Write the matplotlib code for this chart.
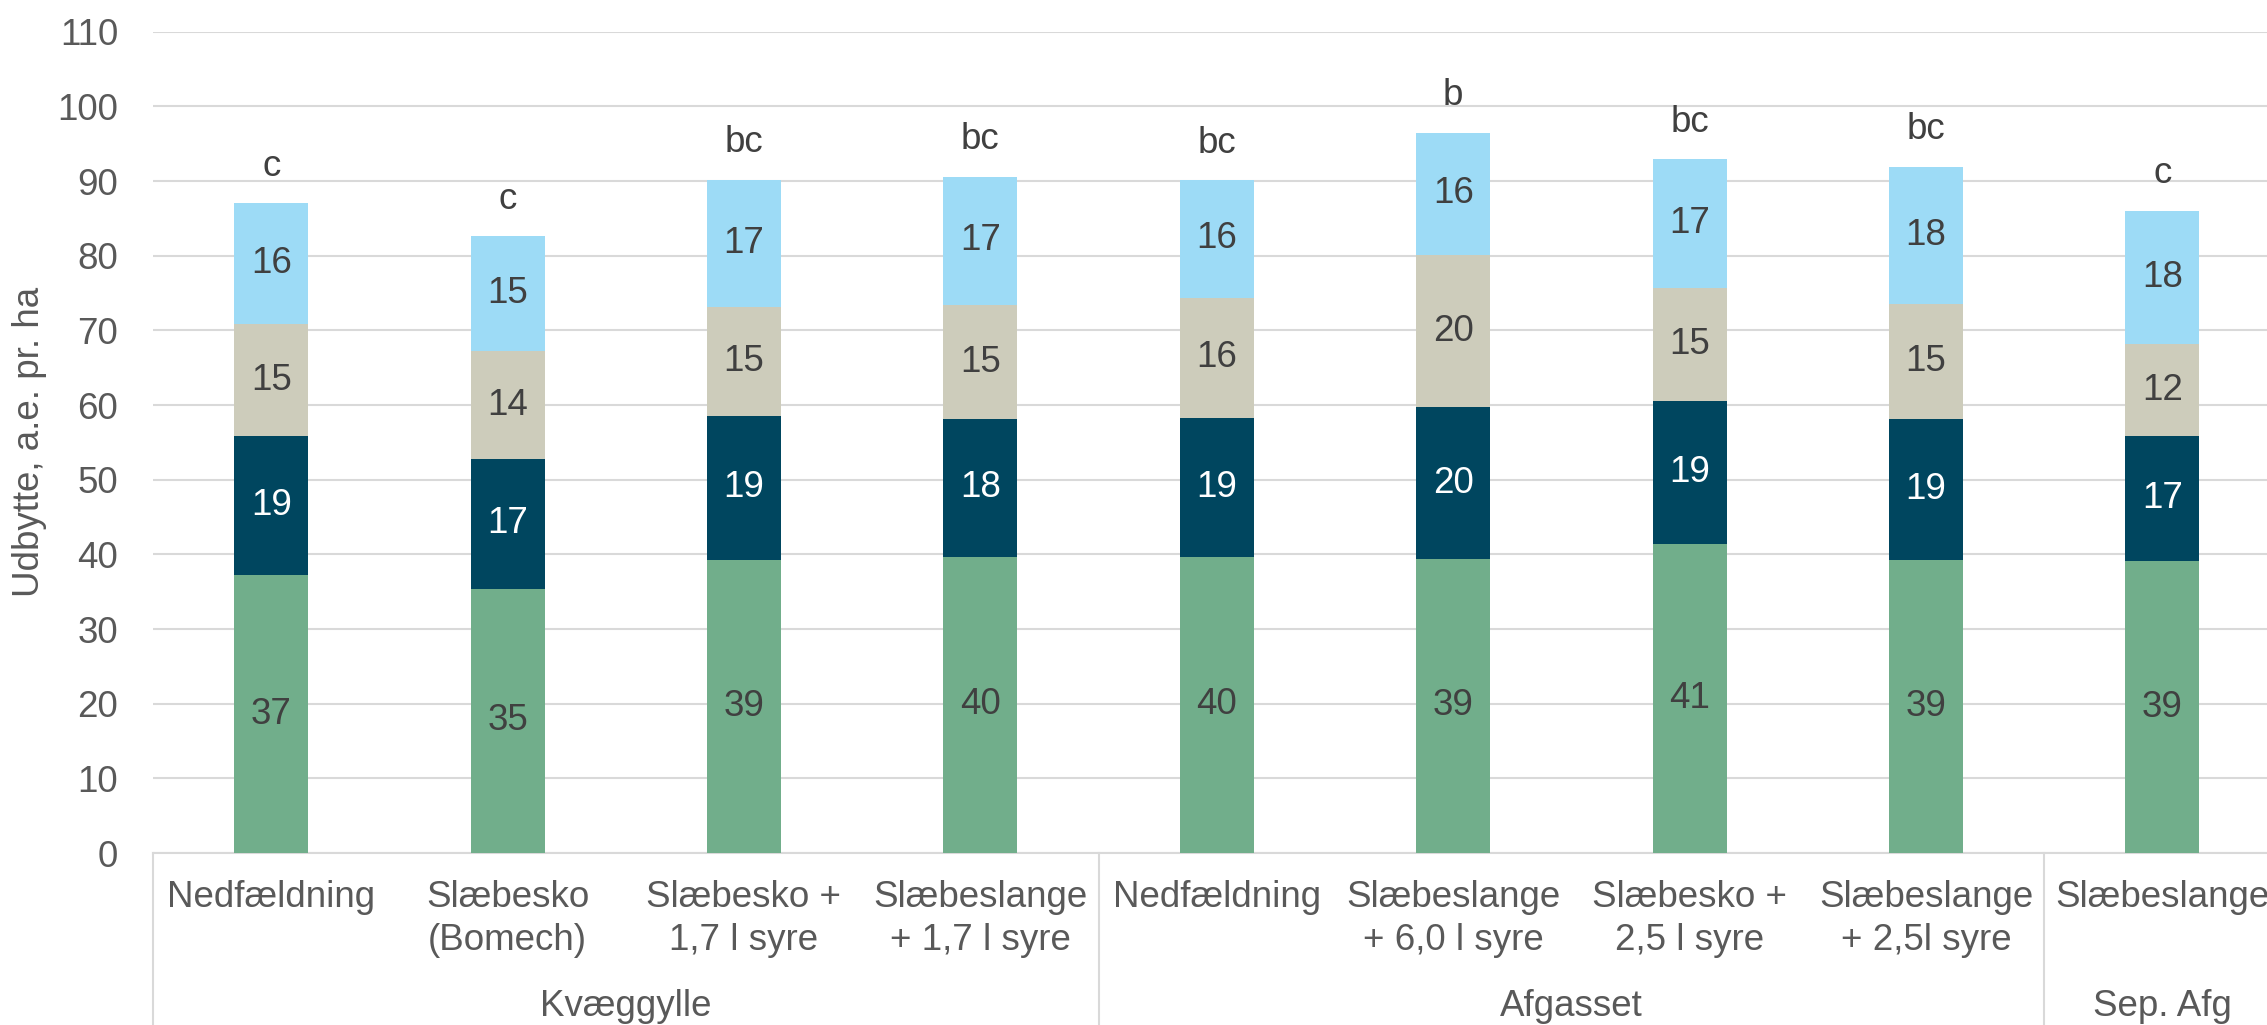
import matplotlib.pyplot as plt
from matplotlib.lines import Line2D
from matplotlib.transforms import blended_transform_factory
import numpy as np

plt.rcParams["font.family"] = ["Liberation Sans", "DejaVu Sans"]

CATEGORIES = [
    "Nedfældning",
    "Slæbesko\n(Bomech)",
    "Slæbesko +\n1,7 l syre",
    "Slæbeslange\n+ 1,7 l syre",
    "Nedfældning",
    "Slæbeslange\n+ 6,0 l syre",
    "Slæbesko +\n2,5 l syre",
    "Slæbeslange\n+ 2,5l syre",
    "Slæbeslange",
]
GROUPS = ["Kvæggylle", "Afgasset", "Sep. Afg"]
GROUP_SPANS = [(0, 3), (4, 7), (8, 9)]

SEG1 = [37.2, 35.4, 39.3, 39.7, 39.7, 39.4, 41.4, 39.3, 39.1]
SEG2 = [18.6, 17.4, 19.2, 18.4, 18.6, 20.3, 19.1, 18.8, 16.7]
SEG3 = [15.1, 14.4, 14.7, 15.3, 16.1, 20.4, 15.2, 15.4, 12.4]
SEG4 = [16.1, 15.4, 17.0, 17.2, 15.7, 16.4, 17.2, 18.4, 17.8]
LETTERS = ["c", "c", "bc", "bc", "bc", "b", "bc", "bc", "c"]

SEG_COLORS = ["#71AE8B", "#00465F", "#CDCCBB", "#9DDBF6"]
LABEL_COLORS = ["#404040", "#FFFFFF", "#404040", "#404040"]
GRID = "#D9D9D9"
TICK_TEXT = "#595959"
FS = 26.5

fig = plt.figure(figsize=(22.67, 10.25), dpi=100)
fig.patch.set_facecolor("white")
ax = fig.add_axes([153 / 2267, 0.1678, 2127.6 / 2267, 0.8012])

x = np.arange(len(CATEGORIES))
bottom = np.zeros(len(CATEGORIES))
for seg, color, tcolor in zip([SEG1, SEG2, SEG3, SEG4], SEG_COLORS, LABEL_COLORS):
    vals = np.array(seg)
    ax.bar(x, vals, bottom=bottom, width=0.313, color=color, zorder=3)
    for xi, b, v in zip(x, bottom, vals):
        ax.text(xi, b + v / 2, f"{v:.0f}", ha="center", va="center",
                fontsize=FS, color=tcolor, zorder=4)
    bottom += vals

for xi, top, letter in zip(x, bottom, LETTERS):
    ax.annotate(letter, (xi, top), xytext=(0, 20), textcoords="offset points",
                ha="center", va="baseline", fontsize=FS, color="#404040")

ax.set_xlim(-0.5, len(CATEGORIES) - 0.5)
ax.set_ylim(0, 110)
ax.set_yticks(range(0, 111, 10))
ax.set_xticks([])
ax.tick_params(axis="y", length=0, pad=25, labelsize=FS, labelcolor=TICK_TEXT)
ax.grid(axis="y", color=GRID, linewidth=1.5, zorder=0)
ax.set_axisbelow(True)
for side in ["top", "right", "left"]:
    ax.spines[side].set_visible(False)
ax.spines["bottom"].set_color(GRID)
ax.spines["bottom"].set_linewidth(1.5)

# category and group labels below the axis
trans = blended_transform_factory(ax.transData, fig.transFigure)
line_y = [1 - 907 / 1025, 1 - 950 / 1025]
for xi, label in zip(x, CATEGORIES):
    for ly, part in zip(line_y, label.split("\n")):
        ax.text(xi, ly, part, transform=trans, ha="center", va="baseline",
                fontsize=FS, color=TICK_TEXT, clip_on=False)

for name, (start, end) in zip(GROUPS, GROUP_SPANS):
    ax.text((start + end) / 2 if end - start > 1 else start, 1 - 1016 / 1025, name,
            transform=trans, ha="center", va="baseline", fontsize=FS,
            color=TICK_TEXT, clip_on=False)

for sep in [-0.5, 3.5, 7.5]:
    fig.add_artist(Line2D([sep, sep], [0.1678, 0.0], transform=trans,
                          color=GRID, linewidth=1.5))

fig.text(30 / 2267, 1 - 442 / 1025, "Udbytte, a.e. pr. ha", rotation=90,
         ha="center", va="center", fontsize=FS, color=TICK_TEXT)

fig.savefig("out.png", dpi=100)
